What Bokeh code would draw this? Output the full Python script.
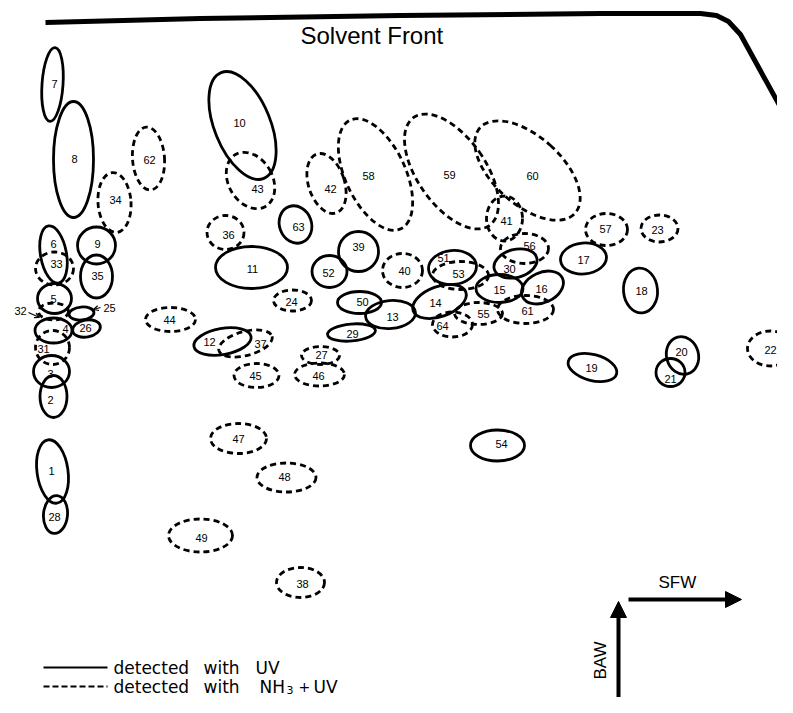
import math
from bokeh.plotting import figure
from bokeh.models import Range1d, ColumnDataSource, Arrow, NormalHead, OpenHead
from bokeh.core.properties import value
from bokeh.embed import file_html
from bokeh.resources import INLINE

# ---- data (spot map, image-like coordinates: x to the right, y downward) ----
spot_id = ["7", "8", "62", "34", "6", "33", "9", "35", "5", "32", "4", "25", "26", "31", "3", "2", "1", "28",
           "10", "43", "42", "58", "59", "60", "41", "56", "57", "23", "17", "18", "20", "21", "19", "22",
           "16", "61", "15", "30", "55", "64", "14", "51", "53", "40", "39", "52", "50", "13", "29", "63",
           "36", "11", "24", "44", "12", "37", "27", "46", "45", "47", "48", "49", "38", "54"]
detect = ["UV", "UV", "NH3", "NH3", "UV", "NH3", "UV", "UV", "UV", "NH3", "UV", "UV", "UV", "NH3", "UV", "UV", "UV", "UV",
          "UV", "NH3", "NH3", "NH3", "NH3", "NH3", "NH3", "NH3", "NH3", "NH3", "UV", "UV", "UV", "UV", "UV", "NH3",
          "UV", "NH3", "UV", "UV", "NH3", "NH3", "UV", "UV", "NH3", "NH3", "UV", "UV", "UV", "UV", "UV", "UV",
          "NH3", "UV", "NH3", "NH3", "UV", "NH3", "NH3", "NH3", "NH3", "NH3", "NH3", "NH3", "NH3", "UV"]
spot_x = [52, 73, 148, 114, 53, 54, 96, 96, 54, 53, 53, 81, 86, 52, 51, 53, 52, 55,
          242, 250, 326, 375, 451, 527, 504, 524, 606, 659, 583, 640, 682, 670, 592, 770,
          542, 525, 499, 515, 478, 452, 439, 452, 460, 402, 358, 329, 359, 390, 351, 295,
          225, 251, 292, 170, 222, 245, 320, 319, 256, 238, 286, 200, 300, 497]
spot_y = [84, 159, 158, 202, 254, 268, 245, 276, 298, 311, 330, 313, 328, 347, 371, 396, 471, 514,
          125, 180, 183, 174, 171, 170, 218, 248, 229, 228, 258, 290, 355, 372, 367, 348,
          287, 309, 288, 263, 313, 324, 301, 267, 275, 270, 251, 271, 302, 314, 332, 224,
          232, 267, 300, 319, 341, 343, 355, 374, 375, 438, 477, 535, 582, 445]
spot_w = [21, 40, 32, 33, 26, 38, 38, 32, 34, 30, 37, 25, 28, 34, 36, 27, 31, 24,
          56, 44, 36, 60, 68, 68, 36, 48, 42, 37, 46, 34, 32, 29, 50, 46,
          44, 56, 47, 44, 48, 40, 56, 48, 56, 40, 40, 35, 44, 50, 48, 32,
          37, 72, 38, 50, 58, 55, 38, 50, 45, 56, 59, 64, 48, 54]
spot_h = [74, 116, 63, 60, 58, 33, 37, 43, 30, 17, 25, 13, 17, 34, 32, 42, 64, 38,
          114, 60, 62, 120, 132, 128, 45, 30, 32, 27, 31, 45, 38, 28, 26, 35,
          30, 28, 28, 28, 22, 25, 30, 34, 28, 34, 40, 32, 22, 28, 17, 38,
          34, 42, 21, 24, 26, 24, 18, 23, 24, 30, 29, 33, 30, 31]
spot_tilt = [-4, 0, 4, 4, 10, 0, 0, 0, 0, 0, 0, 5, 10, 0, 0, 0, 8, -5,
             22, 30, 18, 25, 35, 48, 0, 0, 0, 0, 5, 5, 15, 0, -15, 0,
             25, 0, 0, 15, 0, 0, 20, 5, 0, 0, 0, 0, 0, 5, 5, 20,
             0, 0, 0, 0, 10, 15, 0, 0, 0, 0, 0, 0, 0, 0]
label_x = [54, 74, 149, 115, 53, 56, 97, 97, 53, 20, 65, 109, 85, 43, 50, 50, 51, 54,
           239, 257, 330, 368, 449, 532, 506, 529, 605, 657, 583, 641, 681, 670, 591, 770,
           541, 527, 499, 509, 483, 442, 435, 443, 458, 404, 358, 328, 362, 392, 352, 298,
           228, 252, 291, 169, 209, 260, 321, 318, 255, 238, 284, 201, 302, 501]
label_y = [83, 158, 159, 199, 243, 263, 243, 275, 298, 310, 328, 307, 327, 348, 373, 399, 470, 516,
           122, 188, 188, 175, 174, 175, 220, 245, 228, 229, 259, 290, 351, 378, 367, 349,
           288, 310, 289, 268, 313, 325, 302, 257, 273, 270, 246, 272, 301, 316, 333, 226,
           234, 268, 301, 319, 341, 343, 354, 375, 375, 438, 476, 537, 583, 443]

# solvent front line
front_x = [45, 200, 400, 600, 700, 716, 728, 740, 790]
front_y = [22, 18, 15, 13, 13, 15, 21, 34, 125]

legend_labels = ["detected", "with", "UV"]
legend2_labels = ["detected", "with", "NH", "3", "+", "UV"]

# ---- figure ----
p = figure(width=777, height=697, x_range=Range1d(0, 777), y_range=Range1d(697, 0),
           output_backend="svg", toolbar_location=None, min_border=0,
           x_axis_location=None, y_axis_location=None)
p.grid.visible = False
p.outline_line_color = None
p.background_fill_color = "white"

def subset(kind):
    idx = [i for i, d in enumerate(detect) if d == kind]
    return ColumnDataSource(dict(
        x=[spot_x[i] for i in idx], y=[spot_y[i] for i in idx],
        w=[spot_w[i] for i in idx], h=[spot_h[i] for i in idx],
        a=[math.radians(spot_tilt[i]) for i in idx]))

p.ellipse(x="x", y="y", width="w", height="h", angle="a", source=subset("UV"),
          fill_color=None, line_color="black", line_width=2.8)
p.ellipse(x="x", y="y", width="w", height="h", angle="a", source=subset("NH3"),
          fill_color=None, line_color="black", line_width=2.8, line_dash="6 4")

p.text(x=label_x, y=label_y, text=spot_id, text_align="center", text_baseline="middle",
       text_font=value("Liberation Sans"), text_font_size="11px", text_color="black")

# callout arrows for 32 and 25
p.add_layout(Arrow(x_start=28, y_start=312, x_end=39, y_end=317, line_width=1.2,
                   end=OpenHead(size=5, line_width=1.2)))
p.add_layout(Arrow(x_start=100, y_start=307, x_end=93, y_end=309, line_width=1.2,
                   end=OpenHead(size=5, line_width=1.2)))

# solvent front
p.line(front_x, front_y, line_color="black", line_width=5)
p.text(x=[300], y=[35], text=["Solvent Front"], text_font=value("Liberation Sans"),
       text_font_size="24px", text_baseline="middle")

# direction arrows
p.add_layout(Arrow(x_start=628, y_start=599, x_end=741, y_end=599, line_width=4,
                   end=NormalHead(size=16, fill_color="black", line_color="black")))
p.add_layout(Arrow(x_start=618, y_start=697, x_end=618, y_end=601, line_width=4,
                   end=NormalHead(size=16, fill_color="black", line_color="black")))
p.text(x=[658], y=[582], text=["SFW"], text_font=value("Liberation Sans"),
       text_font_size="17px", text_baseline="middle")
p.text(x=[600], y=[660], text=["BAW"], text_font=value("Liberation Sans"),
       text_font_size="17px", text_align="center", text_baseline="middle",
       angle=math.pi / 2)

# legend
p.line([43, 107], [667, 667], line_color="black", line_width=2)
p.line([43, 107], [686, 686], line_color="black", line_width=2, line_dash="6 3")
p.text(x=[113, 203, 255], y=[667, 667, 667], text=legend_labels,
       text_font=value("DejaVu Sans"), text_font_size="17px", text_baseline="middle")
p.text(x=[113, 203, 259, 313], y=[686, 686, 686, 686],
       text=[legend2_labels[0], legend2_labels[1], legend2_labels[2], legend2_labels[5]],
       text_font=value("DejaVu Sans"), text_font_size="17px", text_baseline="middle")
p.text(x=[286], y=[689], text=[legend2_labels[3]], text_font=value("DejaVu Sans"),
       text_font_size="11px", text_baseline="middle")
p.text(x=[298], y=[686], text=[legend2_labels[4]], text_font=value("DejaVu Sans"),
       text_font_size="14px", text_baseline="middle")

open("out.html", "w").write(file_html(p, INLINE))
